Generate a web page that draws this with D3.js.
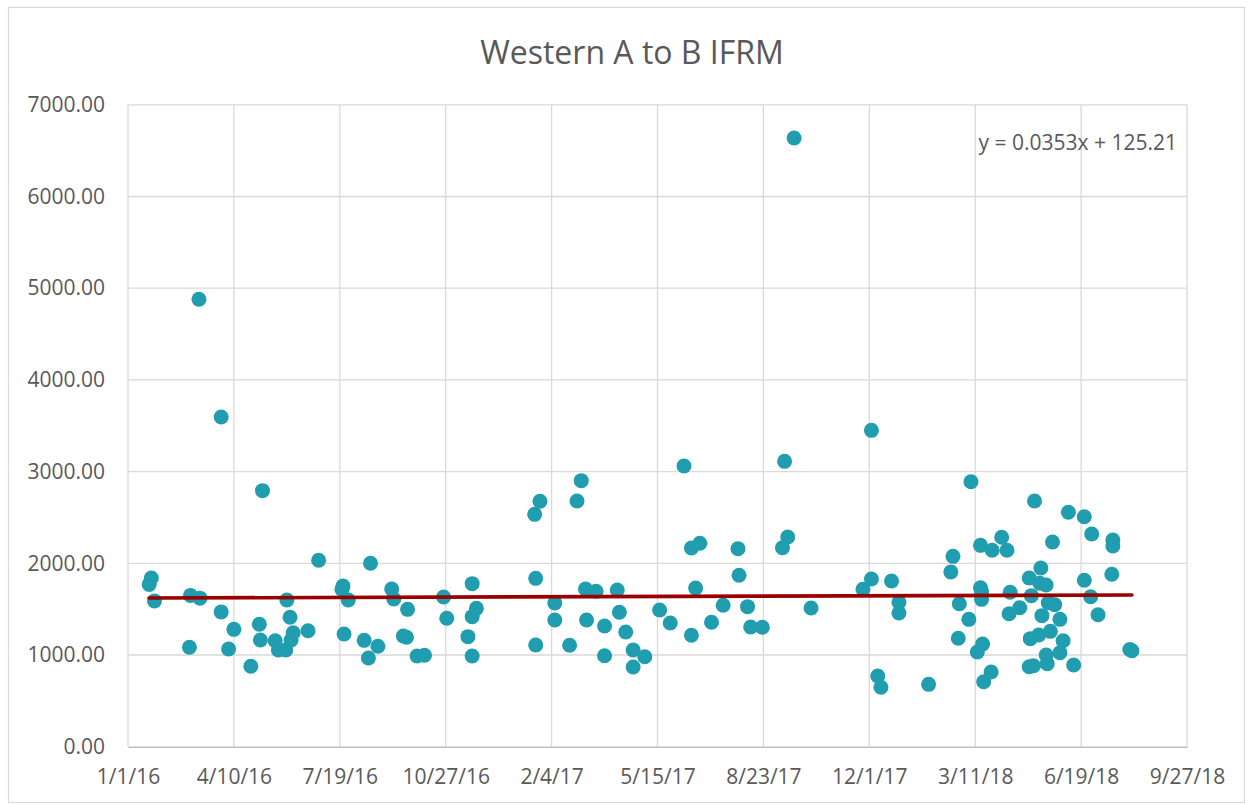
<!DOCTYPE html>
<html>
<head>
<meta charset="utf-8">
<script src="https://cdn.jsdelivr.net/npm/d3@7"></script>
<style>
  html, body { margin: 0; padding: 0; background: #ffffff; }
  svg { display: block; }
  text { font-family: "Open Sans", "DejaVu Sans", sans-serif; fill: #595959; }
</style>
</head>
<body>
<svg id="chart" width="1252" height="805"></svg>
<script>
// ---- Data (x = Excel date serial numbers, y = IFRM values) ----
const chartTitle = "Western A to B IFRM";

const dateSerials = [
  42390, 42392, 42395, 42428, 42429, 42437, 42438, 42458, 42458, 42465,
  42470, 42486, 42494, 42495, 42497, 42509, 42512, 42519, 42520, 42523,
  42524, 42526, 42540, 42550, 42572, 42573, 42574, 42578, 42593, 42597,
  42599, 42606, 42619, 42621, 42630, 42633, 42634, 42643, 42650, 42668,
  42671, 42691, 42695, 42695, 42695, 42699, 42754, 42755, 42755, 42759,
  42773, 42773, 42787, 42794, 42798, 42802, 42803, 42812, 42820, 42820,
  42832, 42834, 42840, 42847, 42847, 42858, 42872, 42882, 42895, 42902,
  42902, 42906, 42910, 42921, 42932, 42946, 42947, 42955, 42958, 42969,
  42988, 42990, 42993, 42999, 43015, 43064, 43072, 43072, 43078, 43081,
  43091, 43098, 43098, 43126, 43147, 43149, 43154, 43155, 43164, 43166,
  43172, 43175, 43175, 43176, 43176, 43177, 43178, 43185, 43186, 43195,
  43200, 43202, 43203, 43212, 43221, 43221, 43222, 43223, 43225, 43226,
  43230, 43231, 43232, 43233, 43237, 43237, 43238, 43239, 43241, 43243,
  43245, 43250, 43250, 43253, 43258, 43263, 43273, 43273, 43279, 43280,
  43286, 43299, 43300, 43300, 43316, 43318
];

const ifrmValues = [
  1770, 1840, 1590, 1085, 1650, 4880, 1620, 3595, 1470, 1065,
  1280,  877, 1335, 1164, 2792, 1156, 1055, 1055, 1600, 1411,
  1164, 1243, 1265, 2033, 1716, 1752, 1229, 1600, 1160,  967,
  2000, 1095, 1720, 1611, 1207, 1193, 1498,  989,  997, 1632,
  1400, 1200, 1778, 1418,  989, 1509, 2534, 1836, 1109, 2676,
  1567, 1382, 1106, 2679, 2901, 1720, 1382, 1695, 1316,  992,
  1709, 1466, 1251, 1055,  869,  981, 1491, 1349, 3061, 2167,
  1215, 1731, 2218, 1357, 1542, 2159, 1869, 1527, 1305, 1302,
  2170, 3112, 2287, 6638, 1513, 1716, 1829, 3450,  771,  648,
  1807, 1575, 1458,  680, 1905, 2076, 1182, 1559, 1389, 2890,
  1033, 2196, 1734, 1690, 1607, 1120,  709,  815, 2142, 2284,
  2142, 1450, 1684, 1516, 1840,  872, 1178, 1647,  883, 2679,
  1218, 1782, 1949, 1429, 1763, 1000,  905, 1570, 1258, 2232,
  1549, 1389, 1025, 1156, 2556,  891, 2508, 1815, 1636, 2320,
  1439, 1880, 2254, 2189, 1060, 1047
];

// x-axis tick labels (every 100 days) and y-axis ticks
const xTickSerials = [42370, 42470, 42570, 42670, 42770, 42870, 42970, 43070, 43170, 43270, 43370];
const yTickValues = [0, 1000, 2000, 3000, 4000, 5000, 6000, 7000];

// Linear trendline as displayed in the chart
const trendSlope = 0.0353;
const trendIntercept = 125.21;
const trendLabel = "y = 0.0353x + 125.21";

// ---- Helpers ----
const EXCEL_EPOCH = Date.UTC(1899, 11, 30);
const DAY = 86400000;
const serialToDate = s => new Date(EXCEL_EPOCH + s * DAY);

const data = dateSerials.map((s, i) => ({ serial: s, date: serialToDate(s), value: ifrmValues[i] }));

// ---- Layout ----
const svg = d3.select("#chart");
const plot = { left: 128, right: 1187, top: 104.8, bottom: 746.7 };

// Chart outer border
svg.append("rect")
  .attr("x", 8.5).attr("y", 7.5)
  .attr("width", 1236).attr("height", 795)
  .attr("fill", "#ffffff")
  .attr("stroke", "#d9d9d9").attr("stroke-width", 1.2);

const x = d3.scaleUtc()
  .domain([serialToDate(xTickSerials[0]), serialToDate(xTickSerials[xTickSerials.length - 1])])
  .range([plot.left, plot.right]);

const y = d3.scaleLinear()
  .domain([0, 7000])
  .range([plot.bottom, plot.top]);

// Gridlines
const grid = svg.append("g");
grid.selectAll("line.h")
  .data(yTickValues.filter(v => v > 0))
  .join("line")
  .attr("x1", plot.left).attr("x2", plot.right)
  .attr("y1", d => y(d)).attr("y2", d => y(d))
  .attr("stroke", "#d9d9d9").attr("stroke-width", 1.3);

grid.selectAll("line.v")
  .data(xTickSerials)
  .join("line")
  .attr("x1", d => x(serialToDate(d))).attr("x2", d => x(serialToDate(d)))
  .attr("y1", plot.top).attr("y2", plot.bottom)
  .attr("stroke", "#d9d9d9").attr("stroke-width", 1.3);

// X axis
const fmtDate = d3.utcFormat("%-m/%-d/%y");
const xAxis = d3.axisBottom(x)
  .tickValues(xTickSerials.map(serialToDate))
  .tickFormat(fmtDate)
  .tickSize(0)
  .tickPadding(18);

const gx = svg.append("g")
  .attr("transform", `translate(0,${plot.bottom})`)
  .call(xAxis);
gx.select(".domain").attr("stroke", "#bfbfbf").attr("stroke-width", 1.5);
gx.selectAll("text")
  .attr("font-size", 21)
  .attr("font-family", "'Open Sans', sans-serif")
  .attr("fill", "#595959")
  .attr("dy", "0.71em")
  .attr("y", 22);

// Y axis
const yAxis = d3.axisLeft(y)
  .tickValues(yTickValues)
  .tickFormat(d3.format(".2f"))
  .tickSize(0)
  .tickPadding(23);

const gy = svg.append("g")
  .attr("transform", `translate(${plot.left},0)`)
  .call(yAxis);
gy.select(".domain").remove();
gy.selectAll("text")
  .attr("font-size", 21)
  .attr("font-family", "'Open Sans', sans-serif")
  .attr("fill", "#595959");

// Points
svg.append("g")
  .selectAll("circle")
  .data(data)
  .join("circle")
  .attr("cx", d => x(d.date))
  .attr("cy", d => y(d.value))
  .attr("r", 7.5)
  .attr("fill", "#209dae");

// Trendline (over the points)
const sMin = d3.min(dateSerials), sMax = d3.max(dateSerials);
const trendPts = [sMin, sMax].map(s => ({ date: serialToDate(s), value: trendSlope * s + trendIntercept }));
svg.append("path")
  .datum(trendPts)
  .attr("d", d3.line().x(d => x(d.date)).y(d => y(d.value)))
  .attr("stroke", "#990000")
  .attr("stroke-width", 3.6)
  .attr("stroke-linecap", "round")
  .attr("fill", "none");

// Trendline equation label
svg.append("text")
  .attr("x", 1177).attr("y", 141.5)
  .attr("text-anchor", "end")
  .attr("dominant-baseline", "central")
  .attr("font-size", 21)
  .text(trendLabel);

// Title
svg.append("text")
  .attr("x", 632).attr("y", 51)
  .attr("text-anchor", "middle")
  .attr("dominant-baseline", "central")
  .attr("font-size", 32)
  .text(chartTitle);
</script>
</body>
</html>
